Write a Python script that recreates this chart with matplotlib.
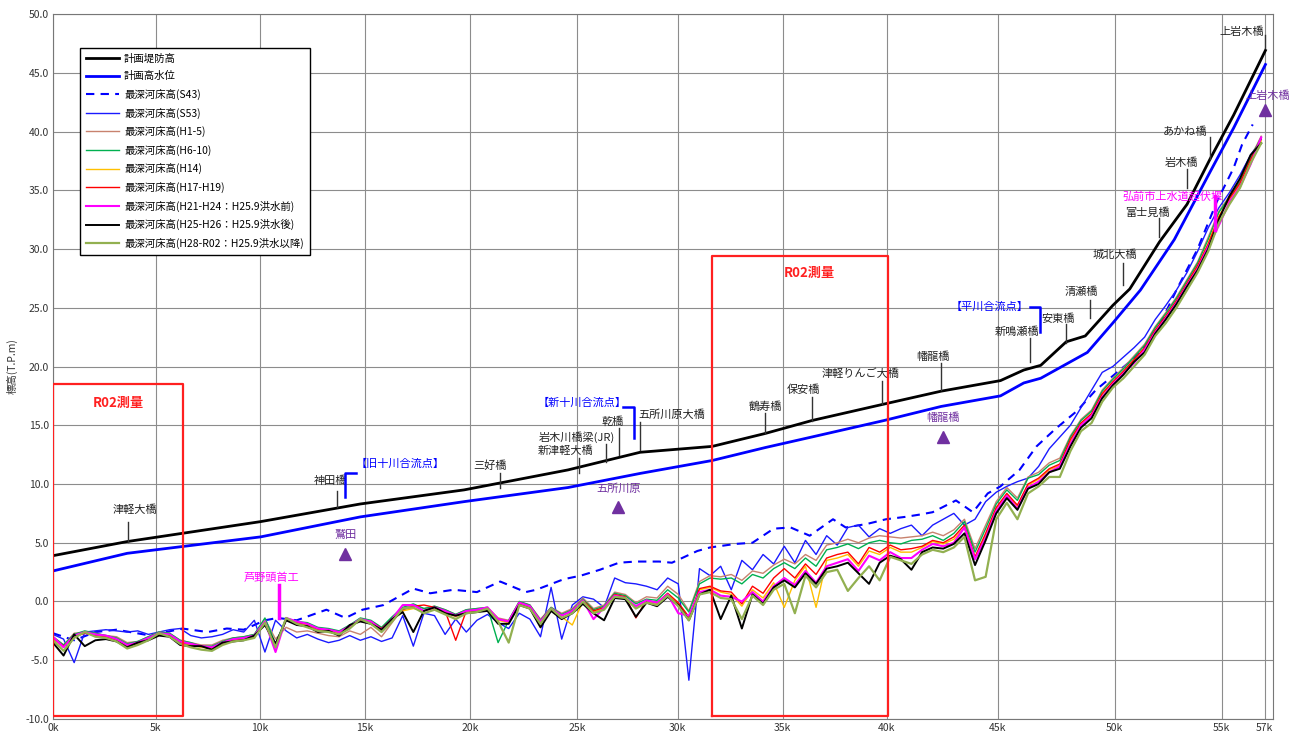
import matplotlib
matplotlib.use('Agg')
import matplotlib.pyplot as plt
import numpy as np

plt.rcParams['font.family'] = ['Noto Sans CJK JP', 'DejaVu Sans']

# 距離 (k) 測点
dist = np.arange(0, 57.01, 0.5)

# 計画堤防高 / 計画高水位
levee_x = [0, 3.5, 9.8, 14.5, 19.4, 24.3, 27.7, 31.1, 33.6, 35.8, 39.2, 41.9, 44.7, 45.8, 46.6, 47.8, 48.7, 50.0, 50.8, 52.2, 53.5, 54.6, 55.7, 57.2]
levee_z = [3.9, 5.1, 6.8, 8.3, 9.5, 11.2, 12.7, 13.2, 14.3, 15.4, 16.8, 17.9, 18.8, 19.7, 20.1, 22.1, 22.6, 25.2, 26.6, 30.6, 33.8, 37.7, 41.4, 46.9]
hwl_x = [0, 3.5, 9.8, 14.5, 19.4, 24.3, 27.7, 31.1, 33.6, 35.8, 39.2, 41.9, 44.7, 45.8, 46.6, 48.8, 50.0, 51.3, 52.9, 54.6, 55.7, 57.2]
hwl_z = [2.6, 4.1, 5.5, 7.2, 8.5, 9.7, 10.9, 12.0, 13.1, 14.0, 15.4, 16.6, 17.5, 18.6, 19.0, 21.2, 23.7, 26.5, 30.8, 36.6, 40.3, 45.7]

# 最深河床高(S43)
s43_x = [0, 1.0, 2.0, 3.0, 4.6, 6.1, 7.3, 8.2, 9.0, 10.0, 10.6, 11.5, 12.9, 13.8, 14.6, 15.6, 16.2, 17.0, 17.8, 18.9,
         20.0, 21.1, 22.3, 22.8, 24.1, 24.9, 25.8, 26.7, 27.5, 28.6, 29.2, 29.8, 30.4, 31.0, 32.2, 33.0, 34.0, 34.8,
         35.7, 36.8, 37.4, 38.4, 39.3, 40.2, 40.9, 41.5, 42.6, 43.4, 44.1, 44.7, 45.6, 46.4, 47.3, 48.3, 49.2, 50.2,
         51.2, 52.2, 53.0, 54.0, 54.9, 55.7, 56.1, 56.6]
s43_z = [-2.7, -3.3, -2.6, -2.4, -2.9, -2.3, -2.6, -2.3, -2.4, -1.6, -1.4, -1.6, -0.7, -1.4, -0.7, -0.3, 0.3, 1.1, 0.7, 1.0,
         0.8, 1.7, 0.8, 1.0, 1.9, 2.2, 2.7, 3.3, 3.4, 3.4, 3.3, 3.8, 4.3, 4.6, 4.9, 5.0, 6.2, 6.3,
         5.6, 7.0, 6.3, 6.6, 7.0, 7.2, 7.4, 7.6, 8.6, 7.6, 9.2, 9.8, 11.2, 13.2, 14.7, 16.2, 18.0, 19.5,
         21.0, 23.5, 26.5, 30.0, 34.0, 36.9, 38.9, 40.6]

# 最深河床高 (0.5k毎)
s53 = [-2.8, -3.2, -5.2, -2.6, -2.5, -2.4, -2.5, -2.6, -2.5, -2.8,
       -2.6, -2.4, -2.3, -2.9, -3.1, -3.0, -2.8, -2.4, -2.6, -1.6,
       -4.3, -1.6, -2.5, -3.1, -2.8, -3.2, -3.5, -3.3, -2.9, -3.3,
       -3.0, -3.4, -3.1, -1.2, -3.8, -1.0, -1.2, -2.8, -1.5, -2.6,
       -1.6, -1.1, -1.8, -2.3, -1.0, -1.5, -3.0, 1.2, -3.2, -0.3,
       0.4, 0.2, -0.5, 2.0, 1.6, 1.5, 1.3, 1.0, 2.0, 1.5,
       -6.7, 2.8, 2.2, 3.0, 1.0, 3.5, 2.7, 4.0, 3.2, 4.7,
       3.3, 5.2, 4.0, 5.6, 4.8, 6.3, 6.5, 5.5, 6.2, 5.8,
       6.2, 6.5, 5.6, 6.5, 7.0, 7.5, 6.5, 7.0, 8.5, 9.3,
       9.8, 10.2, 10.5, 11.5, 13.0, 14.0, 15.0, 16.5, 18.0, 19.5,
       20.0, 20.8, 21.6, 22.5, 24.0, 25.2, 26.5, 28.0, 29.8, 31.8,
       33.5, 34.8, 36.3, 38.0, 39.3]
h1_5 = [-3.0, -3.7, -2.7, -2.6, -2.7, -2.9, -3.0, -3.5, -3.4, -3.0,
        -2.6, -2.7, -3.3, -3.5, -3.7, -3.7, -3.3, -3.1, -3.0, -2.8,
        -1.5, -3.2, -2.2, -2.6, -2.5, -2.7, -2.9, -3.0, -2.5, -2.8,
        -2.2, -3.0, -1.8, -0.6, -0.3, -0.6, -0.4, -0.7, -1.1, -0.7,
        -0.6, -0.5, -1.4, -1.6, 0.0, -0.3, -1.5, -0.5, -1.0, -0.6,
        0.3, -0.6, -0.3, 0.8, 0.6, -0.1, 0.4, 0.3, 1.3, 0.6,
        -0.8, 1.7, 2.2, 2.1, 2.3, 1.8, 2.6, 2.4, 3.1, 3.6,
        3.2, 4.0, 3.5, 4.8, 5.0, 5.3, 5.0, 5.4, 5.6, 5.5,
        5.4, 5.5, 5.6, 5.9, 5.6, 6.1, 7.0, 4.5, 6.5, 8.5,
        9.7, 8.8, 10.6, 11.0, 11.8, 12.2, 14.1, 15.5, 16.3, 18.0,
        19.0, 19.9, 20.9, 21.9, 23.4, 24.6, 25.9, 27.4, 28.9, 31.0,
        33.2, 34.5, 35.8, 37.8, 39.6]
h6_10 = [-3.0, -3.7, -2.8, -2.5, -2.7, -2.9, -3.1, -3.6, -3.4, -3.0,
         -2.6, -2.7, -3.3, -3.5, -3.8, -3.8, -3.4, -3.1, -3.0, -2.8,
         -1.4, -3.6, -1.4, -1.7, -1.8, -2.2, -2.3, -2.5, -2.0, -1.4,
         -1.6, -2.2, -1.3, -0.5, -0.2, -0.6, -0.4, -0.7, -1.1, -0.7,
         -0.6, -0.5, -3.5, -1.6, 0.0, -0.3, -1.6, -0.5, -1.1, -0.7,
         0.2, -0.7, -0.4, 0.7, 0.5, -0.2, 0.2, 0.1, 1.0, 0.3,
         -0.9, 1.5, 2.0, 1.9, 2.0, 1.5, 2.3, 2.0, 2.8, 3.3,
         2.8, 3.7, 3.0, 4.4, 4.6, 4.9, 4.5, 5.0, 5.2, 5.0,
         4.9, 5.2, 5.3, 5.6, 5.2, 5.8, 6.8, 4.2, 6.2, 8.3,
         9.5, 8.6, 10.5, 10.8, 11.6, 12.0, 14.0, 15.4, 16.2, 17.9,
         18.9, 19.8, 20.8, 21.8, 23.3, 24.5, 25.8, 27.3, 28.8, 30.8,
         33.1, 34.4, 35.7, 37.7, 39.5]
h14 = [-3.2, -3.9, -2.9, -2.7, -2.8, -3.0, -3.2, -3.8, -3.6, -3.2,
       -2.8, -2.9, -3.5, -3.7, -3.9, -4.0, -3.6, -3.3, -3.2, -3.0,
       -1.9, -3.8, -1.5, -1.8, -2.0, -2.4, -2.5, -2.7, -2.2, -1.6,
       -1.8, -2.5, -1.6, -0.8, -0.6, -0.8, -0.6, -0.9, -1.3, -0.9,
       -0.8, -0.7, -1.6, -1.8, -0.2, -0.5, -1.8, -0.7, -1.3, -2.0,
       0.0, -0.9, -0.6, 0.5, 0.3, -0.4, 0.0, -0.2, 0.6, -0.2,
       -1.4, 1.0, 1.2, 0.8, 0.6, -0.4, 1.0, 0.3, 1.6, -0.5,
       1.8, 3.0, -0.5, 3.5, 3.7, 4.0, 3.0, 4.3, 4.0, 4.6,
       4.2, 4.2, 4.6, 5.1, 4.9, 5.3, 6.3, 3.7, 5.6, 7.9,
       9.1, 8.1, 9.9, 10.4, 11.2, 11.6, 13.6, 15.1, 15.9, 17.6,
       18.6, 19.5, 20.5, 21.5, 23.0, 24.2, 25.5, 27.0, 28.5, 30.5,
       32.8, 34.2, 35.5, 37.5, 39.2]
h17_19 = [-3.1, -3.8, -3.0, -2.7, -2.9, -3.0, -3.3, -3.7, -3.6, -3.2,
          -2.7, -2.9, -3.5, -3.6, -3.8, -3.9, -3.6, -3.3, -3.2, -3.0,
          -1.8, -3.9, -1.5, -1.8, -1.9, -2.4, -2.4, -2.6, -2.1, -1.6,
          -1.7, -2.3, -1.5, -0.7, -0.4, -0.3, -0.5, -0.8, -3.3, -0.8,
          -0.7, -0.6, -1.5, -1.7, -0.1, -0.4, -1.7, -0.6, -1.2, -0.8,
          0.1, -0.8, -0.5, 0.6, 0.4, -1.4, 0.1, -0.1, 0.7, -0.1,
          -1.3, 1.1, 1.3, 0.9, 0.8, -0.2, 1.3, 0.7, 2.0, 2.8,
          2.0, 3.2, 2.3, 3.7, 4.0, 4.2, 3.2, 4.6, 4.2, 4.8,
          4.4, 4.5, 4.7, 5.2, 5.0, 5.5, 6.5, 3.8, 5.8, 8.0,
          9.2, 8.2, 10.0, 10.5, 11.3, 11.7, 13.8, 15.2, 16.0, 17.7,
          18.7, 19.6, 20.6, 21.6, 23.1, 24.3, 25.6, 27.1, 28.6, 30.4,
          32.7, 34.3, 35.6, 37.6, 39.4]
h21_24 = [-3.0, -3.9, -2.9, -2.6, -2.8, -2.9, -3.2, -3.7, -3.5, -3.1,
          -2.7, -2.8, -3.4, -3.6, -3.8, -3.9, -3.5, -3.2, -3.1, -2.9,
          -1.7, -4.3, -1.4, -1.7, -1.9, -2.3, -2.4, -2.6, -2.1, -1.5,
          -1.7, -2.4, -1.5, -0.3, -0.3, -0.8, -0.5, -0.8, -1.2, -0.8,
          -0.7, -0.5, -1.5, -1.7, -0.1, -0.4, -1.7, -0.6, -1.2, -0.8,
          0.1, -1.5, -0.5, 0.5, 0.3, -0.4, 0.1, -0.1, 0.6, -1.0,
          -1.2, 0.8, 1.0, 0.5, 0.4, 0.0, 0.8, 0.0, 1.3, 2.0,
          1.4, 2.6, 1.6, 3.0, 3.3, 3.6, 2.6, 3.9, 3.5, 4.2,
          3.7, 3.7, 4.4, 4.9, 4.7, 5.0, 6.3, 3.6, 5.4, 7.7,
          9.0, 7.9, 9.7, 10.2, 11.0, 11.5, 13.4, 15.0, 15.8, 17.4,
          18.5, 19.4, 20.3, 21.4, 22.9, 24.1, 25.4, 26.9, 28.3, 30.2,
          32.0, 34.0, 35.3, 37.2, 39.5]
h25_26 = [-3.5, -4.6, -2.8, -3.8, -3.3, -3.2, -3.4, -3.9, -3.5, -3.3,
          -2.9, -3.0, -3.7, -3.8, -3.8, -4.1, -3.5, -3.4, -3.3, -2.9,
          -2.0, -3.6, -1.6, -2.0, -2.1, -2.6, -2.5, -2.9, -2.0, -1.7,
          -1.9, -2.4, -1.5, -0.9, -2.6, -0.8, -0.5, -1.0, -1.2, -1.0,
          -0.9, -0.8, -1.9, -1.9, -0.3, -0.6, -2.2, -0.8, -1.5, -1.0,
          -0.2, -1.0, -1.6, 0.3, 0.2, -1.3, -0.1, -0.4, 0.4, -0.3,
          -1.6, 0.6, 1.0, -1.5, 0.5, -2.3, 0.6, -0.2, 1.2, 1.8,
          1.2, 2.4, 1.5, 2.8, 3.0, 3.3, 2.4, 1.5, 3.3, 3.9,
          3.6, 2.7, 4.2, 4.6, 4.5, 4.9, 5.8, 3.1, 5.2, 7.5,
          8.8, 7.8, 9.6, 10.0, 11.0, 11.3, 13.2, 14.8, 15.6, 17.3,
          18.4, 19.3, 20.4, 21.2, 22.8, 24.0, 25.3, 26.8, 28.2, 30.0,
          32.5, 34.5, 36.0, 38.0, 39.0]
h28_r02 = [-3.3, -4.2, -3.1, -2.6, -3.0, -3.1, -3.4, -4.0, -3.7, -3.3,
           -2.7, -3.0, -3.6, -3.9, -4.1, -4.2, -3.7, -3.4, -3.3, -3.1,
           -1.8, -3.9, -1.4, -1.9, -2.2, -2.5, -2.6, -2.8, -2.3, -1.5,
           -1.9, -2.6, -1.7, -0.6, -0.5, -1.0, -0.7, -1.1, -1.5, -1.0,
           -0.9, -0.6, -1.7, -3.5, -0.3, -0.6, -1.9, -0.6, -1.4, -1.0,
           0.0, -1.0, -0.7, 0.4, 0.3, -0.6, -0.1, -0.3, 0.5, -0.4,
           -1.6, 0.6, 0.8, 0.3, 0.2, -1.5, 0.5, -0.3, 1.0, 1.5,
           -1.0, 2.2, 1.2, 2.5, 2.7, 0.9, 2.0, 3.0, 1.8, 3.8,
           3.5, 3.2, 4.0, 4.4, 4.2, 4.6, 5.5, 1.8, 2.1, 7.0,
           8.4, 7.0, 9.2, 9.8, 10.6, 10.6, 12.8, 14.5, 15.2, 17.0,
           18.2, 19.0, 20.0, 21.0, 22.6, 23.7, 25.0, 26.5, 28.0, 29.8,
           32.2, 33.8, 35.2, 37.3, 39.0]

# x軸目盛
xtick_pos = [0, 4.86, 9.76, 14.72, 19.67, 24.72, 29.48, 34.43, 39.34, 44.58, 50.09, 55.14, 57.17]
xtick_lbl = ['0k', '5k', '10k', '15k', '20k', '25k', '30k', '35k', '40k', '45k', '50k', '55k', '57k']

# 橋梁名: (名前, 文字x, 文字y, 線x, 線y下, 線y上)
bridges = [
    ('津軽大橋', 3.87, 7.8, 3.54, 5.1, 6.8),
    ('神田橋', 13.07, 10.3, 13.4, 8.0, 9.4),
    ('三好橋', 20.6, 11.6, 21.1, 9.7, 10.9),
    ('新津軽大橋', 24.2, 12.8, 24.8, 10.9, 12.2),
    ('岩木川橋梁(JR)', 24.7, 14.0, 26.1, 11.9, 13.4),
    ('乾橋', 26.4, 15.3, 26.7, 12.5, 14.8),
    ('五所川原大橋', 29.2, 15.9, 27.7, 12.9, 15.3),
    ('鶴寿橋', 33.6, 16.6, 33.6, 14.3, 16.0),
    ('保安橋', 35.4, 18.0, 35.8, 15.4, 17.4),
    ('津軽りんご大橋', 38.1, 19.4, 39.1, 16.8, 18.8),
    ('幡龍橋', 41.5, 20.8, 41.9, 18.0, 20.3),
    ('新鳴瀬橋', 45.5, 23.0, 46.1, 20.4, 22.4),
    ('安東橋', 47.4, 24.1, 47.8, 22.0, 23.6),
    ('清瀬橋', 48.5, 26.4, 48.9, 24.1, 25.7),
    ('城北大橋', 50.1, 29.5, 50.5, 26.9, 28.8),
    ('富士見橋', 51.65, 33.1, 52.2, 31.0, 32.6),
    ('岩木橋', 53.25, 37.3, 53.5, 35.2, 36.8),
    ('あかね橋', 53.4, 40.0, 54.6, 37.7, 39.5),
    ('上岩木橋', 56.1, 48.5, 57.2, 47.1, 48.2),
]
# 水位観測所 (名前, 文字x, 文字y, 記号x, 記号y)
stations = [
    ('鷲田', 13.8, 5.7, 13.8, 4.0),
    ('五所川原', 26.7, 9.6, 26.65, 8.0),
    ('幡龍橋', 42.0, 15.6, 42.0, 14.0),
    ('上岩木橋', 57.3, 43.0, 57.2, 41.8),
]
# 合流点 (名前, 文字x, 文字y, 折線x, 折線y)
confluences = [
    ('【旧十川合流点】', 16.4, 11.7, [13.77, 13.77, 14.3], [8.9, 10.9, 10.9]),
    ('【新十川合流点】', 24.95, 16.9, [26.9, 27.4, 27.4], [16.55, 16.55, 13.9]),
    ('【平川合流点】', 44.2, 25.1, [46.1, 46.55, 46.55], [25.1, 25.1, 22.9]),
]
# 堰 (名前, 文字x, 文字y, 線x, 線y下, 線y上)
weirs = [
    ('芦野頭首工', 10.3, 2.0, 10.66, -1.4, 1.4),
    ('弘前市上水道起伏堰', 52.8, 34.4, 54.8, 31.6, 34.5),
]
# R02測量範囲 (x0, x1, y1, 文字x, 文字y)
survey = [(0.0, 6.13, 18.5, 3.07, 16.9), (31.1, 39.4, 29.4, 35.7, 28.0)]

fig = plt.figure(figsize=(12.95, 7.33), dpi=100)
ax = fig.add_axes([0.0409, 0.0191, 0.942, 0.9618])

ax.plot(levee_x, levee_z, color='black', lw=2.0, label='計画堤防高', zorder=5)
ax.plot(hwl_x, hwl_z, color='#0000ff', lw=2.0, label='計画高水位', zorder=5)
ax.plot(s43_x, s43_z, color='#0000ff', lw=1.5, ls=(0, (4, 3)), label='最深河床高(S43)', zorder=3)
ax.plot(dist, s53, color='#1a1aff', lw=1.0, label='最深河床高(S53)', zorder=3)
ax.plot(dist, h1_5, color='#c8826e', lw=1.0, label='最深河床高(H1-5)', zorder=3)
ax.plot(dist, h6_10, color='#00b050', lw=1.0, label='最深河床高(H6-10)', zorder=3)
ax.plot(dist, h14, color='#ffc000', lw=1.0, label='最深河床高(H14)', zorder=3)
ax.plot(dist, h17_19, color='#ff0000', lw=1.0, label='最深河床高(H17-H19)', zorder=3)
ax.plot(dist, h21_24, color='#ff00ff', lw=1.5, label='最深河床高(H21-H24：H25.9洪水前)', zorder=3)
ax.plot(dist, h25_26, color='black', lw=1.4, label='最深河床高(H25-H26：H25.9洪水後)', zorder=3)
ax.plot(dist, h28_r02, color='#92b050', lw=1.6, label='最深河床高(H28-R02：H25.9洪水以降)', zorder=3)

for name, tx, ty, lx, y0, y1 in bridges:
    ax.text(tx, ty, name, fontsize=8, ha='center', va='center', color='#222222', zorder=6)
    ax.plot([lx, lx], [y0, y1], color='#333333', lw=1.0, zorder=6)

for name, tx, ty, mx, my in stations:
    ax.text(tx, ty, name, fontsize=8, ha='center', va='center', color='#7030a0', zorder=6)
    ax.plot(mx, my, marker='^', ms=9, color='#7030a0', ls='none', zorder=6)

for name, tx, ty, bx, by in confluences:
    ax.text(tx, ty, name, fontsize=8, ha='center', va='center', color='#0000ff', zorder=6)
    ax.plot(bx, by, color='#0000ff', lw=1.8, zorder=6)

for name, tx, ty, lx, y0, y1 in weirs:
    ax.text(tx, ty, name, fontsize=8, ha='center', va='center', color='#ff00ff', zorder=6)
    ax.plot([lx, lx], [y0, y1], color='#ff00ff', lw=2.5, zorder=6)

for x0, x1, y1, tx, ty in survey:
    ax.plot([x0, x0, x1, x1, x0], [-9.75, y1, y1, -9.75, -9.75], color='#ff2020', lw=1.6, zorder=7)
    ax.text(tx, ty, 'R02測量', fontsize=9.5, fontweight='bold', ha='center', va='center',
            color='#ff2020', zorder=7)

ax.set_xlim(0, 57.55)
ax.set_ylim(-10, 50)
ax.set_xticks(xtick_pos)
ax.set_xticklabels(xtick_lbl)
ax.set_yticks(np.arange(-10, 50.1, 5))
ax.set_yticklabels(['%.1f' % v for v in np.arange(-10, 50.1, 5)])
ax.tick_params(axis='both', labelsize=7.5, length=0, colors='#333333', pad=3)
ax.grid(True, color='#8c8c8c', lw=0.8)
ax.set_axisbelow(True)
for sp in ax.spines.values():
    sp.set_color('#777777')
    sp.set_linewidth(0.8)
ax.set_ylabel('標高(T.P.m)', fontsize=7.5, color='#333333')
ax.yaxis.set_label_coords(-0.029, 0.5)

leg = ax.legend(loc='upper left', bbox_to_anchor=(0.022, 0.952), borderaxespad=0, fontsize=7.5,
                handlelength=3.2, labelspacing=0.72, fancybox=False, framealpha=1,
                edgecolor='black', borderpad=0.55, handletextpad=0.5)
leg.get_frame().set_linewidth(1.0)
leg.set_zorder(10)

fig.savefig('out.png', dpi=100)
